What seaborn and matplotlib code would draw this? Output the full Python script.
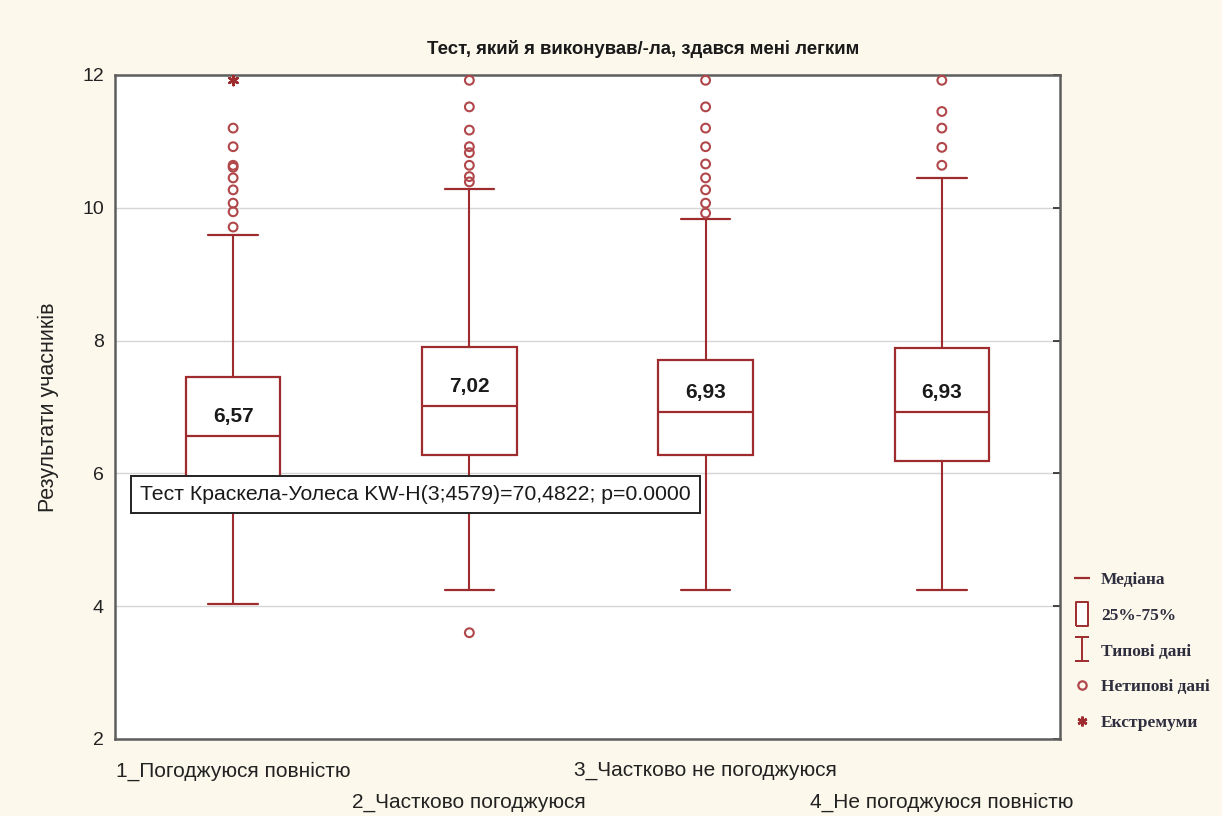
import matplotlib
matplotlib.use("Agg")
import matplotlib.pyplot as plt
from matplotlib.lines import Line2D
from matplotlib.path import Path
import seaborn as sns
import pandas as pd

# values
groups = ["1_Погоджуюся повністю", "2_Частково погоджуюся",
          "3_Частково не погоджуюся", "4_Не погоджуюся повністю"]
medians = [6.57, 7.02, 6.93, 6.93]
q1 = [5.75, 6.28, 6.28, 6.19]
q3 = [7.45, 7.91, 7.71, 7.89]
whisk_lo = [4.03, 4.24, 4.24, 4.24]
whisk_hi = [9.59, 10.28, 9.83, 10.45]
outliers = [
    [9.71, 9.94, 10.07, 10.27, 10.45, 10.61, 10.64, 10.92, 11.20],
    [3.60, 10.39, 10.47, 10.64, 10.83, 10.92, 11.17, 11.52, 11.92],
    [9.92, 10.07, 10.27, 10.45, 10.66, 10.92, 11.20, 11.52, 11.92],
    [10.64, 10.91, 11.20, 11.45, 11.92],
]
extremes = [[11.92], [], [], []]

title = "Тест, який я виконував/-ла, здався мені легким"
ylabel = "Результати учасників"
kw_text = "Тест Краскела-Уолеса KW-H(3;4579)=70,4822; p=0.0000"
legend_labels = ["Медіана", "25%-75%", "Типові дані", "Нетипові дані", "Екстремуми"]

red = "#9E2B2D"
out_red = "#B0474A"
bg = "#FCF8EC"

sns.set_style("white")
plt.rcParams["font.family"] = ["Liberation Sans", "DejaVu Sans"]

fig = plt.figure(figsize=(12.22, 8.16), dpi=100, facecolor=bg)
ax = fig.add_axes([0.0941, 0.0944, 0.7733, 0.8137])
ax.set_facecolor("white")

# box statistics -> bxp
stats = []
for i in range(len(groups)):
    stats.append(dict(med=medians[i], q1=q1[i], q3=q3[i],
                      whislo=whisk_lo[i], whishi=whisk_hi[i], fliers=[]))
ax.bxp(stats, positions=range(len(groups)), widths=0.40, capwidths=0.21,
       showfliers=False, patch_artist=True,
       boxprops=dict(facecolor="white", edgecolor=red, linewidth=1.6),
       medianprops=dict(color=red, linewidth=1.6),
       whiskerprops=dict(color=red, linewidth=1.5),
       capprops=dict(color=red, linewidth=1.6))

# outliers / extremes
out_df = pd.DataFrame([(i, v) for i, vals in enumerate(outliers) for v in vals],
                      columns=["pos", "value"])
ext_df = pd.DataFrame([(i, v) for i, vals in enumerate(extremes) for v in vals],
                      columns=["pos", "value"])
sns.scatterplot(data=out_df, x="pos", y="value", ax=ax, marker="o", s=40,
                color="none", edgecolor=out_red, linewidth=1.5, zorder=4)
sns.scatterplot(data=ext_df, x="pos", y="value", ax=ax, marker=(6, 2, 0), s=45,
                color=red, edgecolor=red, linewidth=1.8, zorder=4)

# median labels
for i, m in enumerate(medians):
    ax.text(i, m + 0.29, f"{m:.2f}".replace(".", ","), ha="center", va="center",
            fontsize=15, fontweight="bold", color="#1A1A1A", zorder=5)

ax.set_xlim(-0.5, 3.5)
ax.set_ylim(2, 12)
ax.set_yticks([2, 4, 6, 8, 10, 12])
ax.yaxis.grid(True, color="#D6D6D6", linewidth=1.0)
ax.set_axisbelow(True)
ax.set_xticks(range(len(groups)))
ax.set_xticklabels(groups, fontsize=15, color="#222222")
ax.tick_params(axis="y", labelsize=14, labelcolor="#222222", direction="in",
               length=5, width=1.2, right=True, pad=8)
ax.tick_params(axis="x", direction="in", length=6, width=1.2, color="#444444")
for k, tick in enumerate(ax.xaxis.get_major_ticks()):
    tick.set_pad(16 if k % 2 == 0 else 39)
for sp in ax.spines.values():
    sp.set_color("#5E5E5E")
    sp.set_linewidth(1.8)
ax.set_xlabel("")
ax.set_ylabel(ylabel, fontsize=15.5, color="#222222", labelpad=17)
ax.set_title(title, fontsize=13.4, fontweight="bold", color="#1A1A1A", pad=15, x=0.559)

# Kruskal-Wallis box
ax.text(-0.394, 5.68, kw_text, ha="left", va="center", fontsize=15.3,
        color="#1A1A1A", zorder=6,
        bbox=dict(boxstyle="square,pad=0.42", facecolor="white",
                  edgecolor="#222222", linewidth=1.4))

# legend
box_marker = [(-0.5, -1), (0.5, -1), (0.5, 1), (-0.5, 1), (-0.5, -1)]
whisk_marker = Path([(-0.6, 1), (0.6, 1), (0, 1), (0, -1), (-0.6, -1), (0.6, -1)],
                    [Path.MOVETO, Path.LINETO, Path.MOVETO, Path.LINETO,
                     Path.MOVETO, Path.LINETO])
handles = [
    Line2D([], [], color=red, marker="_", markersize=11, linestyle="none", markeredgewidth=1.6),
    Line2D([], [], color=red, marker=box_marker, markersize=17, markerfacecolor="white",
           markeredgewidth=1.4, linestyle="none"),
    Line2D([], [], color=red, marker=whisk_marker, markersize=17, markerfacecolor="none",
           markeredgewidth=1.4, linestyle="none"),
    Line2D([], [], color=out_red, marker="o", markersize=6, markerfacecolor="none",
           markeredgewidth=1.6, linestyle="none"),
    Line2D([], [], color=red, marker=(6, 2, 0), markersize=7, markeredgewidth=1.8,
           linestyle="none"),
]
leg = fig.legend(handles, legend_labels, loc="upper left",
                 bbox_to_anchor=(1068 / 1222, 1 - 567 / 816), frameon=False,
                 handlelength=1.0, handletextpad=0.6, labelspacing=1.12,
                 borderaxespad=0.0, borderpad=0.3,
                 prop=dict(family=["Liberation Serif", "DejaVu Serif"], weight="bold", size=12.5))
for t in leg.get_texts():
    t.set_color("#2E2E3E")

fig.savefig("out.png", dpi=100, facecolor=bg)
